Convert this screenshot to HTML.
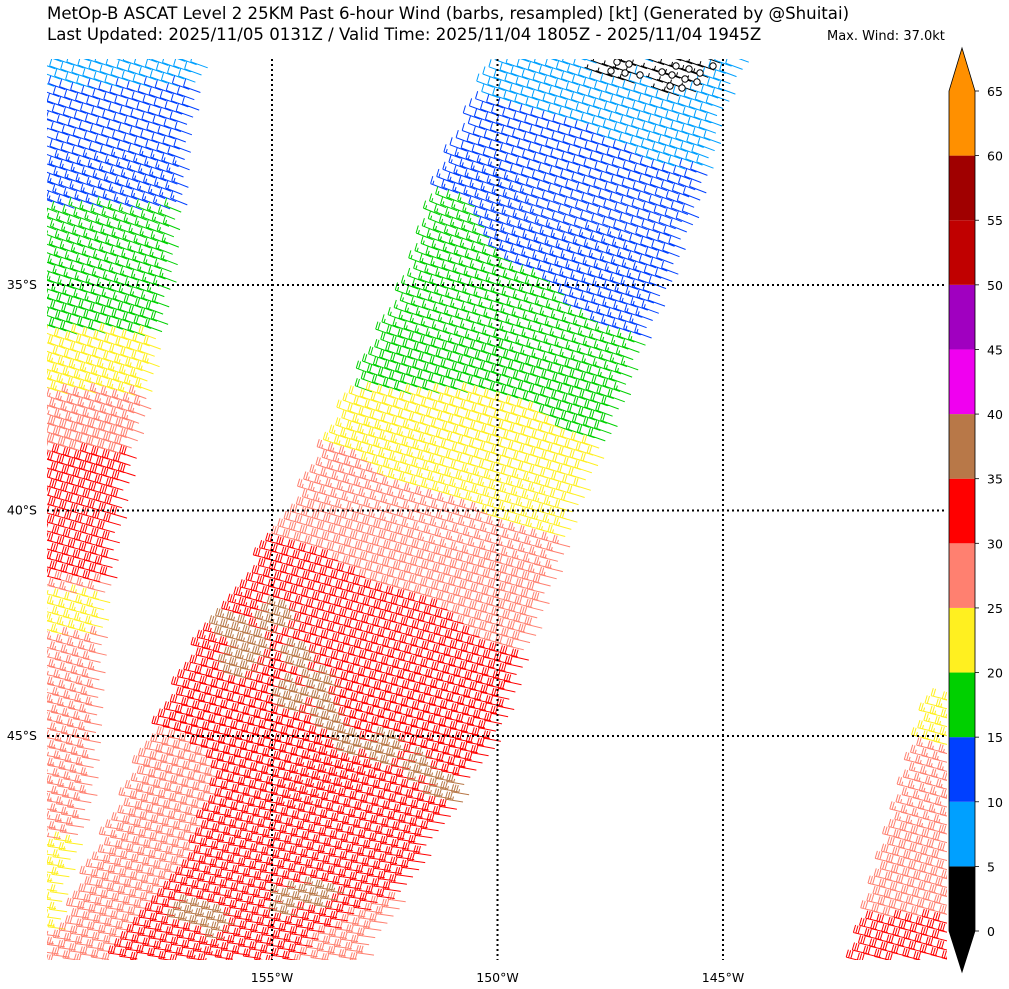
<!DOCTYPE html>
<html><head><meta charset="utf-8">
<style>
html,body{margin:0;padding:0;background:#fff;}
body{width:1009px;height:989px;overflow:hidden;position:relative;font-family:"DejaVu Sans","Liberation Sans",sans-serif;}
svg{position:absolute;left:0;top:0;}
</style></head>
<body>
<svg id="chart" width="1009" height="989" viewBox="0 0 1009 989">
  <defs><clipPath id="mapclip"><rect x="47" y="59" width="900" height="901"/></clipPath></defs>
  <text x="47" y="19" font-size="16.6" fill="#000" font-family="DejaVu Sans, sans-serif">MetOp-B ASCAT Level 2 25KM Past 6-hour Wind (barbs, resampled) [kt] (Generated by @Shuitai)</text>
  <text x="47" y="40" font-size="16.6" fill="#000" font-family="DejaVu Sans, sans-serif">Last Updated: 2025/11/05 0131Z / Valid Time: 2025/11/04 1805Z - 2025/11/04 1945Z</text>
  <text x="827" y="40" font-size="13" fill="#000" font-family="DejaVu Sans, sans-serif">Max. Wind: 37.0kt</text>
  <g id="barbs" clip-path="url(#mapclip)"></g>
  <g id="grid"></g>
  <g id="axes"></g>
  <g id="cbar"></g>
</svg>
<script>
// ---- data ----
const colorLevels = [0,5,10,15,20,25,30,35,40,45,50,55,60,65];
const colorList = ["#000000","#00a0ff","#0040ff","#00d000","#fff020","#ff8070","#ff0000","#b87848","#f000f0","#a000c0","#c00000","#a00000","#ff9000"];
const latLabels = ["35°S","40°S","45°S"];
const latValues = [-35,-40,-45];
const lonLabels = ["155°W","150°W","145°W"];
const lonValues = [-155,-150,-145];
// main swath speed table (kt) by screen row, at left / middle / right of swath
const mainRowY = [59,130,220,300,370,420,470,520,560,620,700,780,860,960];
const mainSpdL = [9,11,17,17,18,22,27,28,32,33,32,27,27,28];
const mainSpdM = [8,10,12,16,18,22,22,27,28,32,32,33,32,33];
const mainSpdR = [8,8,12,12,17,18,22,22,27,28,32,32,31,28];
const mainAng = [20,20,22,20,20,20,18,16,14,14,12,10,8,8];
// left swath
const leftRowY = [59,150,230,300,360,420,480,580,600,660,800,900,960];
const leftSpd = [9,12,16,17,22,27,32,31,22,27,27,22,27];
// right swath
const rightRowY = [700,780,880,960];
const rightSpd = [22,27,28,32];
// calm observations
const calmX = [617,629,640,662,676,689,700,713,611,625,672,685,697,670,682];
const calmY = [62,64,75,72,66,69,73,66,71,73,75,79,82,86,88];
// 35-40 kt patches
const brownX = [240,262,285,310,330,250,300,340,360,395,430,455,200,225,300,330];
const brownY = [630,650,620,660,690,670,700,720,745,750,770,790,915,925,905,898];

// ---- scales ----
const X0=47,X1=947,Y0=59,Y1=960;
const lon2x = lon => 272 + (lon+155)*(723-272)/10;
const lat2y = lat => 285 + (-35-lat)*(736-285)/10;
const spd2y = s => 931 - s*(931-91)/65;
const NS="http://www.w3.org/2000/svg";
function mk(tag,attrs,parent){const e=document.createElementNS(NS,tag);for(const k in attrs)e.setAttribute(k,attrs[k]);parent.appendChild(e);return e;}

function interp(xs,ys,v){ if(v<=xs[0])return ys[0]; for(let i=1;i<xs.length;i++){if(v<=xs[i]){const t=(v-xs[i-1])/(xs[i]-xs[i-1]);return ys[i-1]+t*(ys[i]-ys[i-1]);}} return ys[ys.length-1];}
function inPoly(x,y,p){let c=false;for(let i=0,j=p.length-1;i<p.length;j=i++){const xi=p[i][0],yi=p[i][1],xj=p[j][0],yj=p[j][1];if(((yi>y)!=(yj>y))&&(x<(xj-xi)*(y-yi)/(yj-yi)+xi))c=!c;}return c;}
function colorIdx(s){let k=Math.floor(s/5);return Math.max(0,Math.min(colorList.length-1,k));}

const mainPoly=[[505,59],[755,59],[730,110],[700,220],[665,310],[585,510],[505,736],[430,860],[370,965],[60,965],[90,890],[210,640],[300,520],[345,430],[410,300],[450,180]];
const leftPoly=[[40,59],[212,59],[197,130],[177,290],[155,400],[130,500],[115,600],[107,700],[97,800],[75,880],[62,965],[40,965]];
const rightPoly=[[940,700],[960,695],[960,965],[860,965],[905,820]];
function leftX(y){return interp([59,180,300,430,520,640,890,960],[505,450,410,345,300,210,90,60],y);}
function rightX(y){return interp([59,110,220,310,510,736,860,960],[755,730,700,665,585,505,430,370],y);}

const paths={};
function addBarb(x,y,s,angDeg){
  const ci=colorIdx(s); if(!paths[ci])paths[ci]=[];
  const a=angDeg*Math.PI/180, L=18;
  const dx=-Math.cos(a), dy=-Math.sin(a);
  const tx=x+dx*L, ty=y+dy*L;
  let d=`M${x.toFixed(1)} ${y.toFixed(1)}L${tx.toFixed(1)} ${ty.toFixed(1)}`;
  const lx=2.2, ly=-7.5;
  const r=Math.round(s/5)*5; let full=Math.floor(r/10), half=(r%10)>=5;
  let off=0;
  for(let k=0;k<full;k++){const bx=tx-dx*off,by=ty-dy*off;d+=`M${bx.toFixed(1)} ${by.toFixed(1)}l${lx} ${ly}`;off+=2.4;}
  if(half){if(full===0)off=2.4;const bx=tx-dx*off,by=ty-dy*off;d+=`M${bx.toFixed(1)} ${by.toFixed(1)}l${lx/2} ${ly/2}`;}
  paths[ci].push(d);
}

const step=11.5;
function swath(poly,spdFn,angFn,ang0){
  const a=ang0*Math.PI/180;
  const cx=Math.cos(a), cy=Math.sin(a);
  const tx=-0.43, ty=-0.90;
  for(let i=-130;i<130;i++){for(let j=-130;j<130;j++){
    const x=500+i*step*tx+j*step*cx, y=500+i*step*ty+j*step*cy;
    if(x<X0+4||x>X1+18||y<Y0+1||y>Y1+8)continue;
    if(!inPoly(x,y,poly))continue;
    addBarb(x,y,spdFn(x,y),angFn(y));
  }}
}
swath(mainPoly,(x,y)=>{
  const l=leftX(y),r=rightX(y);const u=Math.max(0,Math.min(1,(x-l)/(r-l)));
  const sl=interp(mainRowY,mainSpdL,y),sm=interp(mainRowY,mainSpdM,y),sr=interp(mainRowY,mainSpdR,y);
  let s=u<0.5?sl+(sm-sl)*u*2:sm+(sr-sm)*(u-0.5)*2;
  for(let k=0;k<calmX.length;k++){if(Math.hypot(x-calmX[k],y-calmY[k])<12)s=3;}
  for(let k=0;k<brownX.length;k++){if(Math.hypot(x-brownX[k],y-brownY[k])<16)s=37;}
  return s;
},y=>interp(mainRowY,mainAng,y),16);
swath(leftPoly,(x,y)=>interp(leftRowY,leftSpd,y),y=>interp(mainRowY,mainAng,y),16);
swath(rightPoly,(x,y)=>interp(rightRowY,rightSpd,y),y=>14,16);

const bg=document.getElementById('barbs');
Object.keys(paths).forEach(ci=>{
  const p=mk('path',{d:paths[ci].join(''),stroke:colorList[ci],'stroke-width':1,fill:'none'},bg);
  
  
});
calmX.forEach((cx,k)=>{
  const c=mk('circle',{cx:cx,cy:calmY[k],r:3.2,stroke:'#000','stroke-width':1,fill:'#fff'},bg);
  
  
});

const gg=document.getElementById('grid'), ax=document.getElementById('axes');
latValues.forEach((lat,k)=>{
  const y=lat2y(lat);
  const l=mk('line',{x1:X0,x2:X1,y1:y,y2:y,stroke:'#000','stroke-width':2,'stroke-dasharray':'2,3'},gg);
  
  
  const t=mk('text',{x:37,y:y+4,'font-size':12.5,'text-anchor':'end','font-family':'DejaVu Sans, sans-serif'},ax);
  t.textContent=latLabels[k];
  
  
});
lonValues.forEach((lon,k)=>{
  const x=lon2x(lon);
  const l=mk('line',{x1:x,x2:x,y1:Y0,y2:Y1,stroke:'#000','stroke-width':2,'stroke-dasharray':'2,3'},gg);
  
  
  const t=mk('text',{x:x,y:982,'font-size':12.5,'text-anchor':'middle','font-family':'DejaVu Sans, sans-serif'},ax);
  t.textContent=lonLabels[k];
  
  
});

const cb=document.getElementById('cbar');
const CX0=949,CX1=975;
colorList.forEach((c,k)=>{
  const y1=spd2y(colorLevels[k+1]),y0=spd2y(colorLevels[k]);
  const r=mk('rect',{x:CX0,y:y1,width:CX1-CX0,height:y0-y1,fill:c},cb);
  
  
});
const tt=mk('polygon',{points:`${CX0},${spd2y(65)} ${CX1},${spd2y(65)} ${(CX0+CX1)/2},48`,fill:'#ff9000'},cb);


const tb=mk('polygon',{points:`${CX0},${spd2y(0)} ${CX1},${spd2y(0)} ${(CX0+CX1)/2},972`,fill:'#000'},cb);


const ol=mk('polygon',{points:`${(CX0+CX1)/2},48 ${CX1},${spd2y(65)} ${CX1},${spd2y(0)} ${(CX0+CX1)/2},972 ${CX0},${spd2y(0)} ${CX0},${spd2y(65)}`,fill:'none',stroke:'#000','stroke-width':0.8},cb);


colorLevels.forEach(v=>{
  const y=spd2y(v);
  const tk=mk('line',{x1:CX1,x2:CX1+4,y1:y,y2:y,stroke:'#000','stroke-width':0.8},cb);
  
  
  const t=mk('text',{x:987,y:y+5,'font-size':12.5,'font-family':'DejaVu Sans, sans-serif'},cb);
  t.textContent=v;
  
  
});
</script>
</body></html>
